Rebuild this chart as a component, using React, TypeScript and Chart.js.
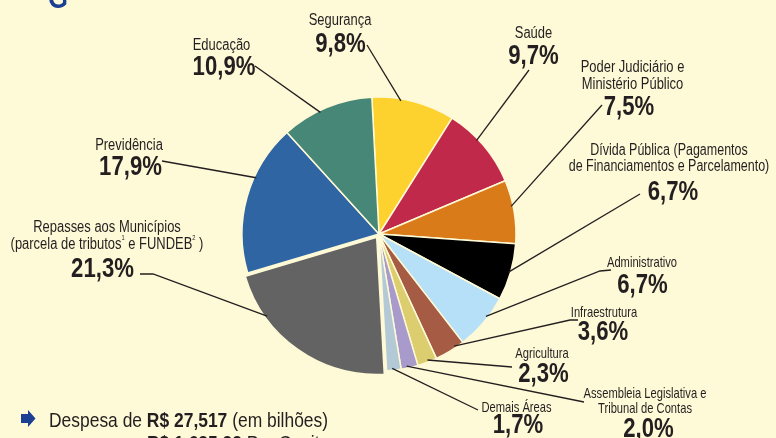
import React, { useEffect, useRef } from 'react';
import { Chart, registerables } from 'chart.js';

Chart.register(...registerables);

// ---- data ----
const categories = [
  'Segurança',
  'Saúde',
  'Poder Judiciário e Ministério Público',
  'Dívida Pública (Pagamentos de Financiamentos e Parcelamento)',
  'Administrativo',
  'Infraestrutura',
  'Agricultura',
  'Assembleia Legislativa e Tribunal de Contas',
  'Demais Áreas',
  'Repasses aos Municípios (parcela de tributos e FUNDEB)',
  'Previdência',
  'Educação',
];
const values = [9.8, 9.7, 7.5, 6.7, 6.7, 3.6, 2.3, 2.0, 1.7, 21.3, 17.9, 10.9];
const labelLines = [
  ['Segurança'],
  ['Saúde'],
  ['Poder Judiciário e', 'Ministério Público'],
  ['Dívida Pública (Pagamentos', 'de Financiamentos e Parcelamento)'],
  ['Administrativo'],
  ['Infraestrutura'],
  ['Agricultura'],
  ['Assembleia Legislativa e', 'Tribunal de Contas'],
  ['Demais Áreas'],
  ['Repasses aos Municípios', '(parcela de tributos^1 e FUNDEB^2 )'],
  ['Previdência'],
  ['Educação'],
];
const totalValue = 'R$ 27,517';
const perCapitaValue = 'R$ 1.625,32';

// ---- styles ----
const sliceColors = [
  '#FDD22E', '#C0294A', '#D97B19', '#000000', '#B5E0F7', '#A65C44',
  '#DCCD6E', '#A89ACB', '#B3C9D6', '#636363', '#2E65A2', '#468777',
];
const BG = '#FEF9D6';
const INK = '#231F20';
const BLUE = '#1B3F93';
const FONT = '"Liberation Sans", Arial, sans-serif';
const explodedIndex = 9;

type Layout = {
  size: number; sx: number; cx: number; base: number; lh: number;
  pcx: number; pbase: number; frac: number; path: number[][];
};
const layouts: Layout[] = [
  { size: 16, sx: 0.81, cx: 340, base: 25, lh: 17, pcx: 340.5, pbase: 52, frac: 0.35, path: [[367, 45]] },
  { size: 16, sx: 0.81, cx: 533.5, base: 38, lh: 17, pcx: 533.5, pbase: 64, frac: 0.4, path: [[529, 70]] },
  { size: 16, sx: 0.81, cx: 632.5, base: 72, lh: 17, pcx: 629, pbase: 115, frac: 0.41, path: [[602, 105]] },
  { size: 16, sx: 0.78, cx: 669, base: 155, lh: 16, pcx: 673, pbase: 200, frac: 0.51, path: [[640, 194]] },
  { size: 14.5, sx: 0.77, cx: 642, base: 267, lh: 15, pcx: 642.5, pbase: 293, frac: 0.39, path: [[611, 270], [600, 271]] },
  { size: 14.5, sx: 0.77, cx: 604, base: 317, lh: 15, pcx: 603, pbase: 340, frac: 0.3, path: [[578, 320], [570, 320]] },
  { size: 14.5, sx: 0.77, cx: 542, base: 358, lh: 15, pcx: 543.5, pbase: 382, frac: 0.45, path: [[512, 367]] },
  { size: 14.5, sx: 0.77, cx: 645, base: 398, lh: 15, pcx: 648.5, pbase: 437, frac: 0.65, path: [[584, 402]] },
  { size: 14.5, sx: 0.77, cx: 516.5, base: 412, lh: 15, pcx: 518, pbase: 433, frac: 0.6, path: [[478, 410]] },
  { size: 16, sx: 0.81, cx: 107, base: 232, lh: 16.5, pcx: 102.5, pbase: 277, frac: 0.75, path: [[140, 274], [153, 274]] },
  { size: 16, sx: 0.81, cx: 129, base: 150, lh: 17, pcx: 130.5, pbase: 175, frac: 0.64, path: [[162, 161]] },
  { size: 16, sx: 0.81, cx: 221.5, base: 50, lh: 17, pcx: 224, pbase: 75, frac: 0.42, path: [[255, 66]] },
];

const pct = (v: number) => v.toFixed(1).replace('.', ',') + '%';

function scaledText(ctx: CanvasRenderingContext2D, text: string, x: number, y: number, sx: number, align: CanvasTextAlign) {
  ctx.save();
  ctx.translate(x, y);
  ctx.scale(sx, 1);
  ctx.textAlign = align;
  ctx.fillText(text, 0, 0);
  ctx.restore();
}

function drawLine(ctx: CanvasRenderingContext2D, text: string, cx: number, base: number, size: number, sx: number) {
  const parts: { t: string; sup: boolean }[] = [];
  let buf = '';
  for (let i = 0; i < text.length; i++) {
    if (text[i] === '^' && i + 1 < text.length) {
      if (buf) parts.push({ t: buf, sup: false });
      buf = '';
      parts.push({ t: text[i + 1], sup: true });
      i++;
    } else buf += text[i];
  }
  if (buf) parts.push({ t: buf, sup: false });
  const fontN = `${size}px ${FONT}`;
  const fontS = `${Math.round(size * 0.45)}px ${FONT}`;
  let total = 0;
  const widths = parts.map((p) => {
    ctx.font = p.sup ? fontS : fontN;
    const w = ctx.measureText(p.t).width * sx;
    total += w;
    return w;
  });
  let x = cx - total / 2;
  parts.forEach((p, i) => {
    ctx.font = p.sup ? fontS : fontN;
    scaledText(ctx, p.t, x, p.sup ? base - size * 0.55 : base, sx, 'left');
    x += widths[i];
  });
}

const labelPlugin = {
  id: 'calloutLabels',
  afterDraw(chart: any) {
    const ctx: CanvasRenderingContext2D = chart.ctx;
    const meta = chart.getDatasetMeta(0);
    ctx.save();
    ctx.fillStyle = INK;
    ctx.strokeStyle = INK;
    ctx.lineWidth = 1.3;
    ctx.textBaseline = 'alphabetic';
    layouts.forEach((L, i) => {
      const arc = meta.data[i];
      const p = arc.getProps(['x', 'y', 'startAngle', 'endAngle', 'outerRadius'], true);
      const off = (arc.options.offset || 0) / 4;
      const mid = (p.startAngle + p.endAngle) / 2;
      const a = p.startAngle + L.frac * (p.endAngle - p.startAngle);
      const r = p.outerRadius - 2;
      const ax = p.x + Math.cos(mid) * off + Math.cos(a) * r;
      const ay = p.y + Math.sin(mid) * off + Math.sin(a) * r;
      ctx.beginPath();
      ctx.moveTo(L.path[0][0], L.path[0][1]);
      for (let k = 1; k < L.path.length; k++) ctx.lineTo(L.path[k][0], L.path[k][1]);
      ctx.lineTo(ax, ay);
      ctx.stroke();

      labelLines[i].forEach((line, k) => drawLine(ctx, line, L.cx, L.base + k * L.lh, L.size, L.sx));
      ctx.font = `bold 27px ${FONT}`;
      scaledText(ctx, pct(values[i]), L.pcx, L.pbase, 0.82, 'center');
    });

    // footer lines
    const drawRuns = (runs: { t: string; b: boolean }[], x: number, y: number) => {
      const sx = 0.83;
      runs.forEach((r) => {
        ctx.font = `${r.b ? 'bold ' : ''}21px ${FONT}`;
        scaledText(ctx, r.t, x, y, sx, 'left');
        x += ctx.measureText(r.t).width * sx;
      });
    };
    drawRuns([{ t: 'Despesa de ', b: false }, { t: totalValue, b: true }, { t: ' (em bilhões)', b: false }], 49, 427);
    drawRuns([{ t: perCapitaValue, b: true }, { t: ' Per Capita', b: false }], 147, 450);

    // bullet arrow
    ctx.fillStyle = BLUE;
    ctx.beginPath();
    ctx.moveTo(21, 414);
    ctx.lineTo(28, 414);
    ctx.lineTo(28, 410);
    ctx.lineTo(35.5, 418.5);
    ctx.lineTo(28, 427);
    ctx.lineTo(28, 423);
    ctx.lineTo(21, 423);
    ctx.closePath();
    ctx.fill();

    // cropped title glyph
    ctx.font = `bold 32px ${FONT}`;
    scaledText(ctx, 'G', 48, 8, 0.8, 'left');
    ctx.restore();
  },
};

export default function App() {
  const ref = useRef<HTMLCanvasElement>(null);
  useEffect(() => {
    const canvas = ref.current;
    if (!canvas) return;
    const chart = new Chart(canvas, {
      type: 'pie',
      data: {
        labels: categories,
        datasets: [
          {
            data: values,
            backgroundColor: sliceColors,
            borderColor: BG,
            borderWidth: 1.5,
            offset: categories.map((_, i) => (i === explodedIndex ? 16 : 0)),
            hoverOffset: 0,
          } as any,
        ],
      },
      options: {
        responsive: false,
        animation: false,
        rotation: -3,
        radius: 137,
        events: [],
        layout: { padding: { left: 0, right: 18, top: 30, bottom: 0 } },
        plugins: { legend: { display: false }, tooltip: { enabled: false } },
      } as any,
      plugins: [labelPlugin],
    });
    return () => chart.destroy();
  }, []);
  return (
    <div style={{ position: 'fixed', left: 0, top: 0, width: 776, height: 438, background: BG, overflow: 'hidden' }}>
      <canvas ref={ref} width={776} height={438} style={{ display: 'block' }} />
    </div>
  );
}
